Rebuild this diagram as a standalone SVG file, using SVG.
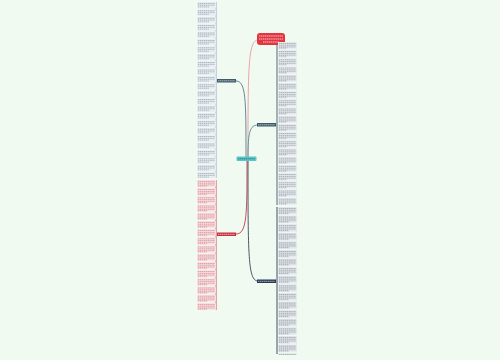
<svg xmlns="http://www.w3.org/2000/svg" width="500" height="360" viewBox="0 0 500 360">
<defs>
<style>
.conn{fill:none;stroke-width:0.9}
.tl{stroke-width:0.7;stroke-dasharray:1.4 0.5}
</style>
<pattern id="pB" patternUnits="userSpaceOnUse" x="197" y="2" width="19" height="7.4">
<rect x="0" y="0" width="19" height="6.3" fill="#e7edf3"/>
<g class="tl" stroke="#8e99a6"><line x1="1" y1="1.4" x2="18" y2="1.4"/><line x1="1" y1="3.1" x2="18" y2="3.1"/><line x1="1" y1="4.8" x2="12" y2="4.8"/></g>
</pattern>
<pattern id="pR" patternUnits="userSpaceOnUse" x="197" y="180" width="19" height="8.2">
<rect x="0" y="0" width="19" height="7" fill="#f9dfe2"/>
<g class="tl" stroke="#cf7c86"><line x1="1" y1="1.4" x2="18" y2="1.4"/><line x1="1" y1="3.1" x2="18" y2="3.1"/><line x1="1" y1="4.8" x2="18" y2="4.8"/><line x1="1" y1="6.2" x2="10" y2="6.2"/></g>
</pattern>
<pattern id="pG" patternUnits="userSpaceOnUse" x="278" y="42" width="19" height="8.2">
<rect x="0" y="0" width="19" height="7" fill="#e6eaee"/>
<g class="tl" stroke="#8b939c"><line x1="1" y1="1.4" x2="18" y2="1.4"/><line x1="1" y1="3.1" x2="18" y2="3.1"/><line x1="1" y1="4.8" x2="18" y2="4.8"/><line x1="1" y1="6.2" x2="9" y2="6.2"/></g>
</pattern>
<pattern id="pN" patternUnits="userSpaceOnUse" x="278" y="207" width="19" height="8.6">
<rect x="0" y="0" width="19" height="7.4" fill="#e4e8ed"/>
<g class="tl" stroke="#858e99"><line x1="1" y1="1.4" x2="18" y2="1.4"/><line x1="1" y1="3.1" x2="18" y2="3.1"/><line x1="1" y1="4.8" x2="18" y2="4.8"/><line x1="1" y1="6.4" x2="11" y2="6.4"/></g>
</pattern>
</defs>
<rect width="500" height="360" fill="#f1faf1"/>
<g id="connectors">
<path class="conn" stroke="#e79a9f" d="M248,157 C248,70 248,40 258,40"/>
<path class="conn" stroke="#5d7888" d="M246,157 C246,100 246,81 236,81"/>
<path class="conn" stroke="#4f8a98" d="M248,157 C248,132 250,125 258,125"/>
<path class="conn" stroke="#cc3545" d="M247,161 C247,215 247,234 236,234"/>
<path class="conn" stroke="#34475e" d="M248,161 C248,255 248,281 258,281"/>
<line x1="216" y1="2" x2="216" y2="178" stroke="#8fa5bd" stroke-width="0.9"/>
<line x1="216" y1="180" x2="216" y2="310" stroke="#cf3a4a" stroke-width="0.9"/>
<line x1="277" y1="42" x2="277" y2="205" stroke="#3d5a6c" stroke-width="0.9"/>
<line x1="277" y1="207" x2="277" y2="354" stroke="#2c3b55" stroke-width="0.9"/>
</g>
<g id="center">
<rect x="236.5" y="156.5" width="20" height="4.5" rx="1" fill="#5ec6c9"/>
<line x1="238" y1="158.8" x2="255" y2="158.8" stroke="#1f6f73" stroke-width="0.8" stroke-dasharray="1.4 0.5"/>
</g>
<g id="top-red">
<rect x="257" y="33" width="28" height="12" rx="3" fill="#e2353f"/>
<g class="tl" stroke="#ffffff"><line x1="259" y1="36" x2="283" y2="36"/><line x1="259" y1="39" x2="283" y2="39"/><line x1="263" y1="42" x2="279" y2="42"/></g>
</g>
<g id="left-top">
<rect x="217" y="79" width="19" height="3.5" fill="#3f5b6d"/>
<line x1="218" y1="80.8" x2="235" y2="80.8" class="tl" stroke="#dfe8ee"/>
</g>
<g id="left-bottom">
<rect x="217" y="232.5" width="19" height="3.5" fill="#c9303d"/>
<line x1="218" y1="234.3" x2="235" y2="234.3" class="tl" stroke="#fbe3e5"/>
</g>
<g id="right-mid">
<rect x="257" y="123" width="19" height="3.5" fill="#3d5a6c"/>
<line x1="258" y1="124.8" x2="275" y2="124.8" class="tl" stroke="#dfe8ee"/>
</g>
<g id="right-bottom">
<rect x="257" y="279.5" width="19" height="3.5" fill="#2a3954"/>
<line x1="258" y1="281.3" x2="275" y2="281.3" class="tl" stroke="#dde3ec"/>
</g>
<g id="leaves-left-top"><rect x="197" y="2" width="19" height="176" fill="url(#pB)"/></g>
<g id="leaves-left-bottom"><rect x="197" y="180" width="19" height="130" fill="url(#pR)"/></g>
<g id="leaves-right-mid"><rect x="278" y="42" width="19" height="163" fill="url(#pG)"/></g>
<g id="leaves-right-bottom"><rect x="278" y="207" width="19" height="148" fill="url(#pN)"/></g>
</svg>
